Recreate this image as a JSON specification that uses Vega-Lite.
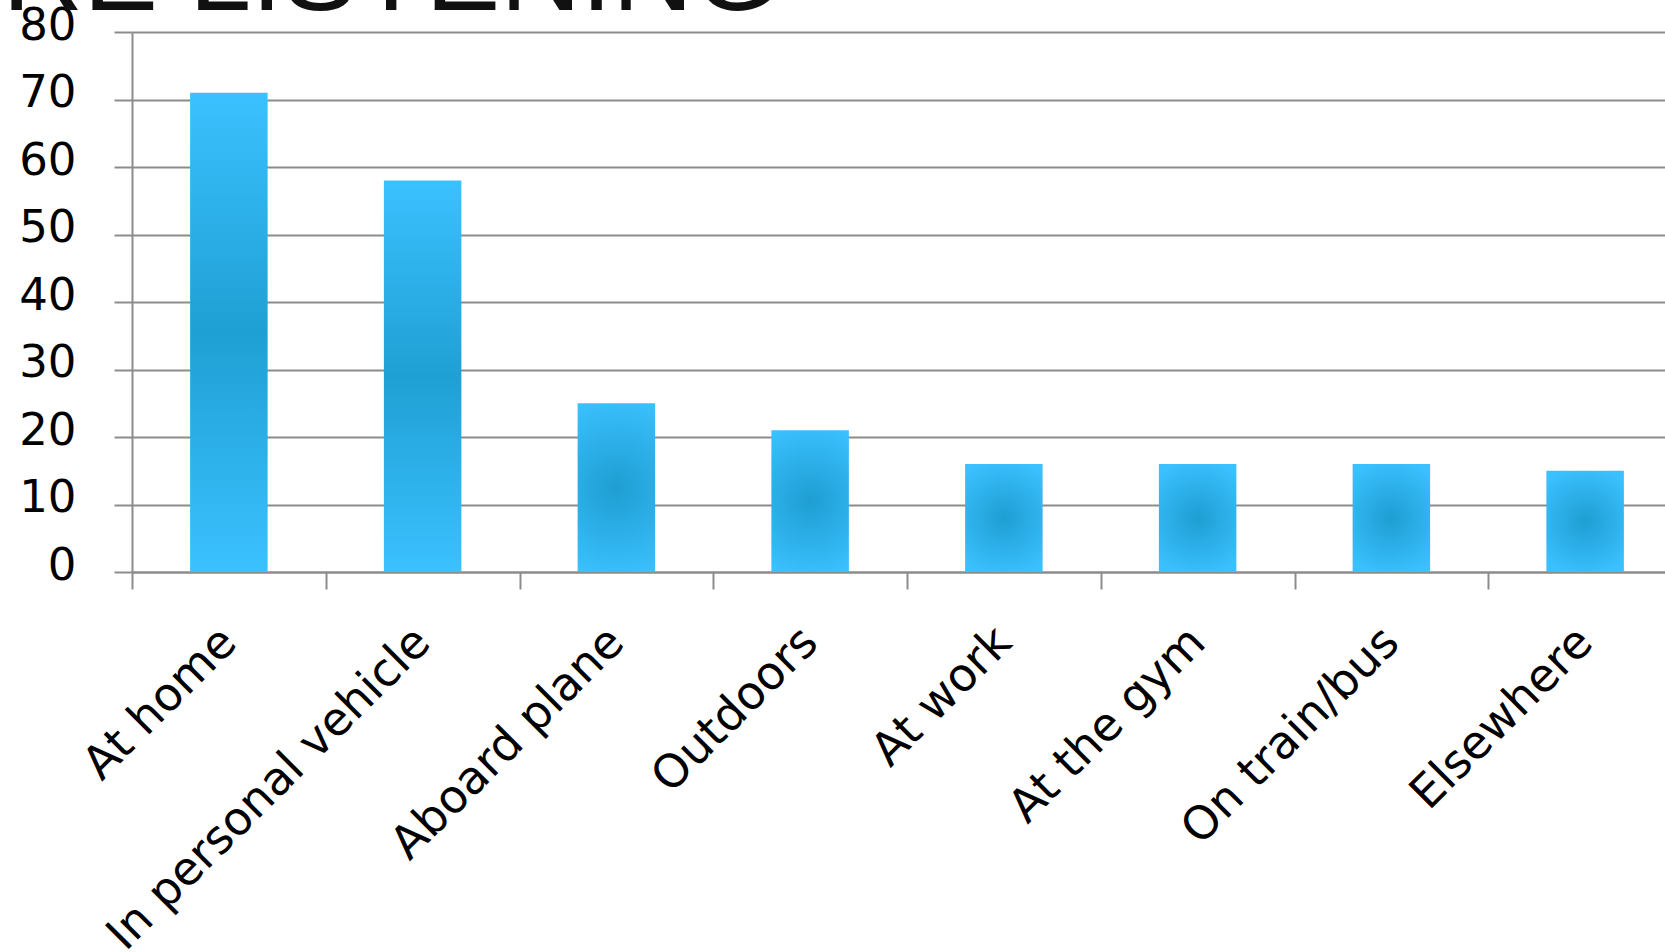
{
  "$schema": "https://vega.github.io/schema/vega-lite/v6.json",
  "width": 1550,
  "height": 540,
  "autosize": {"type": "none"},
  "padding": {"left": 132, "top": 32, "right": 0, "bottom": 380},
  "background": "white",
  "title": {
    "text": "WHERE LISTENING",
    "anchor": "start",
    "frame": "group",
    "font": "Liberation Sans",
    "fontSize": 112,
    "fontWeight": "normal",
    "color": "#111111",
    "baseline": "bottom",
    "offset": 0,
    "dx": -391,
    "dy": 143
  },
  "data": {
    "values": [
      {"place": "At home", "value": 71},
      {"place": "In personal vehicle", "value": 58},
      {"place": "Aboard plane", "value": 25},
      {"place": "Outdoors", "value": 21},
      {"place": "At work", "value": 16},
      {"place": "At the gym", "value": 16},
      {"place": "On train/bus", "value": 16},
      {"place": "Elsewhere", "value": 15}
    ]
  },
  "encoding": {
    "x": {
      "field": "place",
      "type": "nominal",
      "sort": null,
      "scale": {
        "domain": ["At home", "In personal vehicle", "Aboard plane", "Outdoors", "At work", "At the gym", "On train/bus", "Elsewhere"],
        "paddingInner": 0,
        "paddingOuter": 0
      },
      "axis": {
        "title": null,
        "labelAngle": -45,
        "labelFont": "DejaVu Sans",
        "labelFontSize": 46,
        "labelColor": "#000000",
        "labelLimit": 0,
        "labelOverlap": false,
        "labelPadding": 30,
        "labelOffset": -16,
        "tickBand": "extent",
        "tickSize": 17,
        "tickColor": "#8c8c8c",
        "tickWidth": 2,
        "domainColor": "#8c8c8c",
        "domainWidth": 2,
        "grid": false
      }
    },
    "y": {
      "field": "value",
      "type": "quantitative",
      "scale": {"domain": [0, 80], "nice": false},
      "axis": {
        "title": null,
        "values": [0, 10, 20, 30, 40, 50, 60, 70, 80],
        "grid": true,
        "gridColor": "#8c8c8c",
        "gridWidth": 2,
        "tickSize": 18,
        "tickColor": "#8c8c8c",
        "tickWidth": 2,
        "domainColor": "#8c8c8c",
        "domainWidth": 2,
        "labelFont": "DejaVu Sans",
        "labelFontSize": 45,
        "labelColor": "#000000",
        "labelPadding": 38,
        "labelOffset": -7,
        "labelOverlap": false
      }
    }
  },
  "layer": [
    {
      "transform": [{"filter": "datum.value > 40"}],
      "mark": {
        "type": "bar",
        "width": {"band": 0.4},
        "color": {
          "gradient": "linear",
          "x1": 0, "y1": 0, "x2": 0, "y2": 1,
          "stops": [
            {"offset": 0, "color": "#3BC1FF"},
            {"offset": 0.5, "color": "#1FA0D4"},
            {"offset": 1, "color": "#3BC1FF"}
          ]
        }
      }
    },
    {
      "transform": [{"filter": "datum.value <= 40"}],
      "mark": {
        "type": "bar",
        "width": {"band": 0.4},
        "color": {
          "gradient": "radial",
          "x1": 0.5, "y1": 0.5, "r1": 0,
          "x2": 0.5, "y2": 0.5, "r2": 0.55,
          "stops": [
            {"offset": 0, "color": "#1E9ED2"},
            {"offset": 1, "color": "#3BC1FF"}
          ]
        }
      }
    }
  ],
  "config": {"view": {"stroke": null}}
}
